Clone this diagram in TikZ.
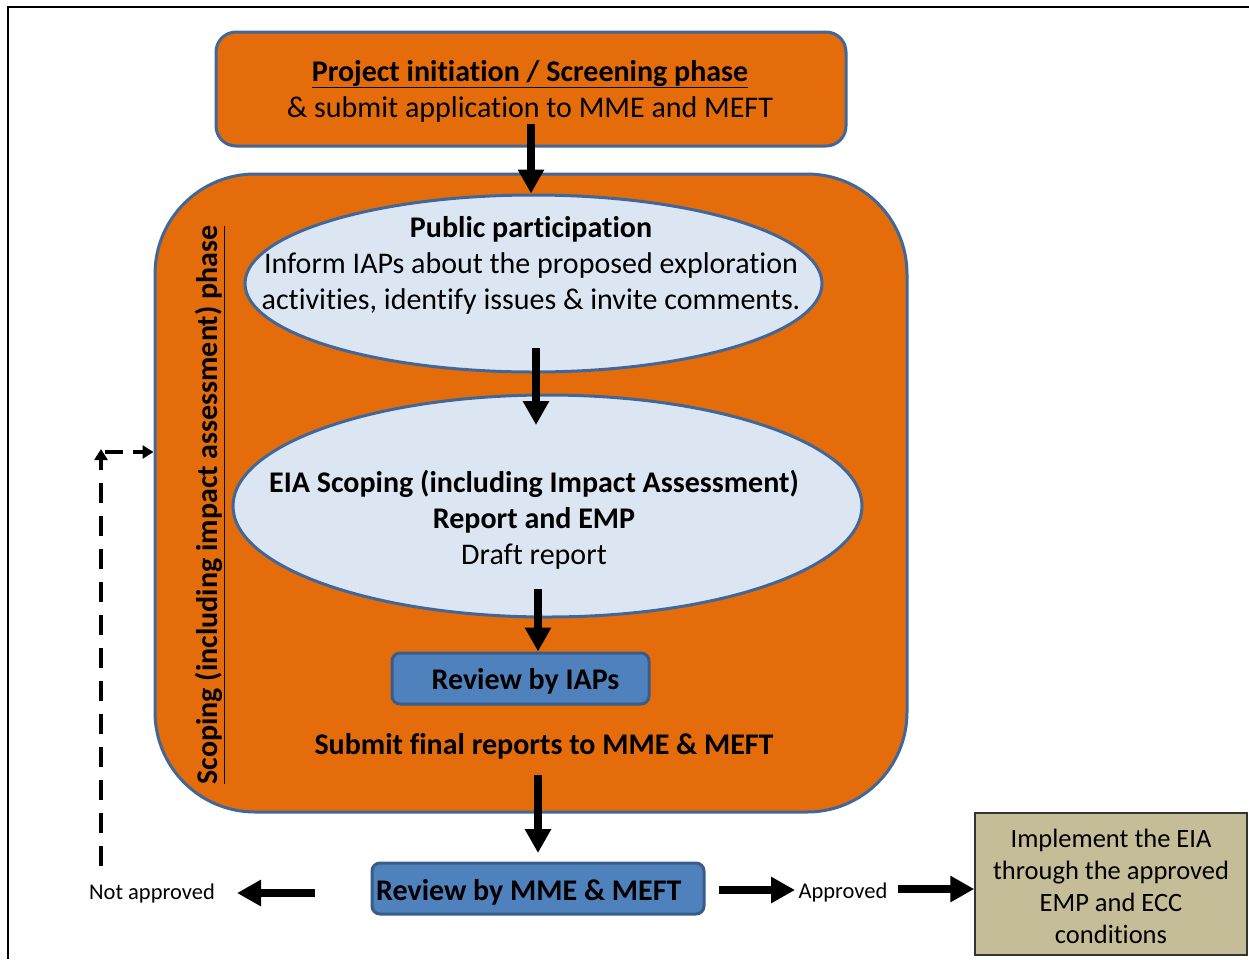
\documentclass[tikz,border=0pt]{standalone}
\usepackage{fontspec}
\setmainfont[Ligatures=NoCommon]{Carlito}
\usetikzlibrary{arrows.meta,shapes.geometric}
\definecolor{orng}{HTML}{E46C0A}
\definecolor{bord}{HTML}{41679A}
\definecolor{lblue}{HTML}{DCE6F2}
\definecolor{rblue}{HTML}{4F81BD}
\definecolor{rbord}{HTML}{385D8A}
\definecolor{tan}{HTML}{C4BD97}
\tikzset{
  big/.style={font=\fontsize{30}{36}\selectfont},
  bigbold/.style={font=\fontsize{30}{36}\selectfont\bfseries},
  orangebox/.style={draw=bord, line width=3pt, fill=orng, rounded corners=20pt},
  ell/.style={ellipse, draw=bord, line width=3pt, fill=lblue, inner sep=0pt},
  reviewbox/.style={draw=rbord, line width=3pt, fill=rblue, rounded corners=8pt},
  small/.style={font=\fontsize{22.5}{26}\selectfont},
  blockarrow/.style={line width=8pt, -{Triangle[width=25pt,length=24pt]}},
  dasharrow/.style={line width=3.5pt, dash pattern=on 20pt off 13pt, -{Triangle[width=13pt,length=11pt]}},
}
\begin{document}
\begin{tikzpicture}[x=1pt,y=-1pt]
\useasboundingbox (0,0) rectangle (1249,959);
% frame
\draw[line width=2.5pt] (1249,7) -- (8,7) -- (8,959);
% top box
\node[orangebox, minimum width=630pt, minimum height=114pt] (top) at (531,89) {};
\node[big, align=center] (toptext) at (530,91)
  {\underline{\textbf{Project initiation / Screening phase}}\\ \& submit application to MME and MEFT};
% big box
\node[draw=bord, line width=3pt, fill=orng, rounded corners=100pt, minimum width=752pt, minimum height=638pt] (scope) at (531,493) {};
% ellipses
\node[ell, minimum width=577pt, minimum height=177pt] (pp) at (533.5,283.5) {};
\node[big, align=center] (pptext) at (531,265)
  {\textbf{Public participation}\\Inform IAPs about the proposed exploration\\activities, identify issues \& invite comments.};
\node[ell, minimum width=629pt, minimum height=222pt] (eia) at (547.5,506) {};
\node[big, align=center] (eiatext) at (534,520)
  {\textbf{EIA Scoping (including Impact Assessment)}\\\textbf{Report and EMP}\\Draft report};
% review IAPs
\node[reviewbox, minimum width=257pt, minimum height=51pt] (iaps) at (520.5,678.5) {};
\node[bigbold] (iapstext) at (525.5,681) {Review by IAPs};
\node[bigbold] (submit) at (544,746) {Submit final reports to MME \& MEFT};
% rotated label
\node[rotate=90, bigbold] (scopelabel) at (210,505)
  {\underline{Scoping (including impact assessment) phase}};
% review MME
\node[reviewbox, minimum width=332pt, minimum height=51pt] (mme) at (538,888.5) {};
\node[bigbold, anchor=west, inner sep=0pt] (mmetext) at (376,892) {Review by MME \& MEFT};
% labels
\node[small] (notapp) at (152,893) {Not approved};
\node[small] (app) at (843,892) {Approved};
% implement
\node[draw=black!80, line width=1.5pt, fill=tan, minimum width=272pt, minimum height=142pt] (impl) at (1111,884) {};
\node[align=center, font=\fontsize{26.5}{32}\selectfont] (impltext) at (1111,886)
  {Implement the EIA\\through the approved\\EMP and ECC\\conditions};
% arrows
\coordinate (a1s) at (531,124);
\draw[blockarrow] (a1s) -- (a1s |- pp.north);
\coordinate (a2s) at (536,348);
\coordinate (a2e) at (536,425);
\draw[blockarrow] (a2s) -- (a2e);
\coordinate (a3s) at (538,589);
\draw[blockarrow] (a3s) -- (iaps.north -| a3s);
\coordinate (a4s) at (538,775);
\coordinate (a4e) at (538,853);
\draw[blockarrow] (a4s) -- (a4e);
\coordinate (lft) at (315,893);
\draw[blockarrow] (lft) -- (lft -| 237,0);
\coordinate (r1s) at (719,890);
\draw[blockarrow] (r1s) -- (app.west |- r1s);
\coordinate (r2s) at (898,889);
\draw[blockarrow] (r2s) -- (impl.west |- r2s);
% dashed return
\coordinate (d1) at (101,866);
\coordinate (d2) at (101,449);
\coordinate (d3) at (105,452);
\draw[dasharrow] (d1) -- (d2);
\draw[dasharrow, dash pattern=on 18pt off 10pt] (d3) -- (scope.west |- d3);
\end{tikzpicture}
\end{document}
